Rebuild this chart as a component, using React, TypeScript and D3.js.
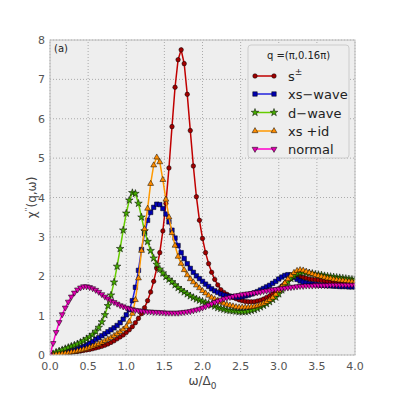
import React from 'react'
import * as d3 from 'd3'

const W = 395
const H = 395
const margin = { left: 50, right: 40, top: 40, bottom: 40 }

const omega = [
  0, 0.04, 0.08, 0.12, 0.16, 0.2, 0.24, 0.28, 0.32, 0.36,
  0.4, 0.44, 0.48, 0.52, 0.56, 0.6, 0.64, 0.68, 0.72, 0.76,
  0.8, 0.84, 0.88, 0.92, 0.96, 1.0, 1.04, 1.08, 1.12, 1.16,
  1.2, 1.24, 1.28, 1.32, 1.36, 1.4, 1.44, 1.48, 1.52, 1.56,
  1.6, 1.64, 1.68, 1.72, 1.76, 1.8, 1.84, 1.88, 1.92, 1.96,
  2.0, 2.04, 2.08, 2.12, 2.16, 2.2, 2.24, 2.28, 2.32, 2.36,
  2.4, 2.44, 2.48, 2.52, 2.56, 2.6, 2.64, 2.68, 2.72, 2.76,
  2.8, 2.84, 2.88, 2.92, 2.96, 3.0, 3.04, 3.08, 3.12, 3.16,
  3.2, 3.24, 3.28, 3.32, 3.36, 3.4, 3.44, 3.48, 3.52, 3.56,
  3.6, 3.64, 3.68, 3.72, 3.76, 3.8, 3.84, 3.88, 3.92, 3.96,
  4.0,
]

const sPm = [
  0, 0.01, 0.02, 0.03, 0.04, 0.05, 0.06, 0.07, 0.08, 0.09,
  0.1, 0.115, 0.13, 0.14, 0.16, 0.18, 0.2, 0.22, 0.25, 0.28,
  0.32, 0.36, 0.41, 0.46, 0.51, 0.57, 0.64, 0.72, 0.82, 0.93,
  1.05, 1.2, 1.38, 1.6, 1.87, 2.2, 2.6, 3.15, 3.85, 4.75,
  5.8, 6.8, 7.5, 7.75, 7.4, 6.62, 5.7, 4.8, 4.02, 3.42,
  2.96, 2.6, 2.32, 2.1, 1.92, 1.78, 1.66, 1.59, 1.54, 1.5,
  1.46, 1.43, 1.4, 1.38, 1.36, 1.355, 1.35, 1.355, 1.37, 1.39,
  1.42, 1.46, 1.5, 1.55, 1.61, 1.68, 1.75, 1.82, 1.89, 1.94,
  1.98, 2.0, 1.99, 1.97, 1.95, 1.93, 1.92, 1.91, 1.9, 1.89,
  1.88, 1.87, 1.86, 1.86, 1.85, 1.85, 1.84, 1.84, 1.83, 1.83,
  1.82,
]

const xsWave = [
  0, 0.01, 0.02, 0.04, 0.05, 0.07, 0.09, 0.11, 0.13, 0.16,
  0.19, 0.22, 0.26, 0.3, 0.34, 0.4, 0.44, 0.49, 0.54, 0.59,
  0.64, 0.69, 0.75, 0.82, 0.91, 1.02, 1.15, 1.38, 1.72, 2.15,
  2.68, 3.08, 3.42, 3.62, 3.75, 3.83, 3.82, 3.72, 3.58, 3.38,
  3.17, 2.97, 2.78, 2.6, 2.45, 2.32, 2.2, 2.1, 2.01, 1.94,
  1.87, 1.8, 1.74, 1.68, 1.63, 1.59, 1.55, 1.52, 1.5, 1.49,
  1.48, 1.47, 1.47, 1.48, 1.5, 1.52, 1.55, 1.58, 1.61, 1.65,
  1.69, 1.73, 1.77, 1.82, 1.87, 1.93, 1.98, 2.02, 2.04, 2.03,
  1.98, 1.92, 1.88, 1.85, 1.83, 1.81, 1.8, 1.79, 1.78, 1.77,
  1.77, 1.76, 1.76, 1.75, 1.75, 1.74, 1.74, 1.74, 1.73, 1.73,
  1.73,
]

const dWave = [
  0, 0.03, 0.07, 0.1, 0.13, 0.16, 0.19, 0.22, 0.25, 0.28,
  0.32, 0.36, 0.41, 0.46, 0.52, 0.6, 0.7, 0.84, 1.02, 1.25,
  1.52, 1.85, 2.25, 2.7, 3.17, 3.6, 3.93, 4.12, 4.1, 3.85,
  3.5, 3.15, 2.88, 2.65, 2.46, 2.3, 2.18, 2.08, 1.99, 1.92,
  1.86, 1.78, 1.71, 1.65, 1.6, 1.55, 1.5, 1.46, 1.42, 1.39,
  1.36, 1.33, 1.3, 1.27, 1.24, 1.2, 1.18, 1.16, 1.14, 1.13,
  1.12, 1.11, 1.1, 1.1, 1.1, 1.11, 1.13, 1.15, 1.18, 1.22,
  1.26, 1.3, 1.35, 1.41, 1.47, 1.55, 1.65, 1.76, 1.86, 1.94,
  2.0, 2.06, 2.09, 2.1, 2.09, 2.08, 2.07, 2.05, 2.04, 2.03,
  2.01, 2.0, 1.99, 1.98, 1.97, 1.96, 1.95, 1.94, 1.93, 1.92,
  1.91,
]

const xsId = [
  0, 0.005, 0.01, 0.02, 0.03, 0.04, 0.05, 0.07, 0.08, 0.1,
  0.12, 0.14, 0.16, 0.19, 0.22, 0.25, 0.28, 0.32, 0.36, 0.4,
  0.44, 0.49, 0.54, 0.59, 0.65, 0.72, 0.85, 1.05, 1.4, 1.95,
  2.65, 3.2, 3.72, 4.35, 4.82, 5.02, 4.9, 4.45, 3.95, 3.5,
  3.1, 2.78, 2.5, 2.32, 2.16, 2.03, 1.93, 1.85, 1.77, 1.7,
  1.63, 1.57, 1.51, 1.46, 1.42, 1.38, 1.34, 1.31, 1.28, 1.26,
  1.24, 1.22, 1.21, 1.21, 1.21, 1.21, 1.22, 1.23, 1.25, 1.28,
  1.31, 1.35, 1.4, 1.46, 1.54, 1.63, 1.73, 1.83, 1.93, 2.02,
  2.09, 2.14, 2.16, 2.15, 2.12, 2.09, 2.06, 2.03, 2.01, 1.99,
  1.97, 1.95, 1.94, 1.92, 1.91, 1.9, 1.89, 1.88, 1.87, 1.86,
  1.86,
]

const normal = [
  0, 0.3, 0.58, 0.83, 1.03, 1.2, 1.35, 1.48, 1.58, 1.66,
  1.71, 1.74, 1.74, 1.72, 1.69, 1.65, 1.6, 1.54, 1.48, 1.43,
  1.38, 1.34, 1.3, 1.26, 1.23, 1.2, 1.18, 1.16, 1.14, 1.13,
  1.12, 1.11, 1.1, 1.1, 1.09, 1.09, 1.08, 1.08, 1.07, 1.07,
  1.07, 1.07, 1.07, 1.08, 1.09, 1.1, 1.11, 1.13, 1.15, 1.17,
  1.2, 1.23, 1.27, 1.3, 1.34, 1.37, 1.4, 1.43, 1.45, 1.47,
  1.49, 1.51, 1.52, 1.54, 1.55, 1.56, 1.57, 1.58, 1.59, 1.6,
  1.62, 1.63, 1.64, 1.66, 1.67, 1.68, 1.69, 1.7, 1.71, 1.72,
  1.73, 1.74, 1.75, 1.75, 1.76, 1.76, 1.76, 1.77, 1.77, 1.77,
  1.77, 1.77, 1.78, 1.78, 1.78, 1.78, 1.78, 1.78, 1.78, 1.78,
  1.78,
]

const xTicks = [0, 0.5, 1, 1.5, 2, 2.5, 3, 3.5, 4]
const yTicks = [0, 1, 2, 3, 4, 5, 6, 7, 8]

const series = [
  { name: 's', values: sPm, line: '#c00000', fill: '#a00000', shape: d3.symbolCircle, size: 16, rot: 0 },
  { name: 'xs\u2212wave', values: xsWave, line: '#2222dd', fill: '#0000b0', shape: d3.symbolSquare, size: 20, rot: 0 },
  { name: 'd\u2212wave', values: dWave, line: '#66cc00', fill: '#44aa00', shape: d3.symbolStar, size: 18, rot: 0 },
  { name: 'xs +id', values: xsId, line: '#ff9900', fill: '#ff8c00', shape: d3.symbolTriangle, size: 15, rot: 0 },
  { name: 'normal', values: normal, line: '#ff00cc', fill: '#e000b0', shape: d3.symbolTriangle, size: 15, rot: 180 },
]

const font = 'DejaVu Sans, sans-serif'

export default function App() {
  const x = d3.scaleLinear().domain([0, 4]).range([margin.left, W - margin.right])
  const y = d3.scaleLinear().domain([0, 8]).range([H - margin.bottom, margin.top])

  const lineGen = d3.line<number>()
    .x((_, i) => x(omega[i]))
    .y((d) => y(d))

  const lx0 = 255
  const lx1 = 274
  const ly = [76, 94, 112.5, 131, 149]

  return (
    <svg width={W} height={H} style={{ position: 'absolute', left: 0, top: 0, background: 'white' }}>
      <defs>
        <clipPath id="plot">
          <rect x={x(0)} y={y(8)} width={x(4) - x(0)} height={y(0) - y(8)} />
        </clipPath>
      </defs>
      <rect x={x(0)} y={y(8)} width={x(4) - x(0)} height={y(0) - y(8)} fill="#eeeeee" />
      {xTicks.map((t) => (
        <line key={'gx' + t} x1={x(t)} x2={x(t)} y1={y(0)} y2={y(8)} stroke="#999" strokeWidth={0.8} strokeDasharray="1,2" />
      ))}
      {yTicks.map((t) => (
        <line key={'gy' + t} x1={x(0)} x2={x(4)} y1={y(t)} y2={y(t)} stroke="#999" strokeWidth={0.8} strokeDasharray="1,2" />
      ))}
      <g clipPath="url(#plot)">
        {series.map((s) => (
          <g key={s.name}>
            <path d={lineGen(s.values) || ''} fill="none" stroke={s.line} strokeWidth={1.5} />
            {s.values.map((v, i) => (
              <path
                key={i}
                d={d3.symbol().type(s.shape).size(s.size)() || ''}
                transform={`translate(${x(omega[i])},${y(v)}) rotate(${s.rot})`}
                fill={s.fill}
                stroke="#000"
                strokeWidth={0.5}
              />
            ))}
          </g>
        ))}
      </g>
      <rect x={x(0)} y={y(8)} width={x(4) - x(0)} height={y(0) - y(8)} fill="none" stroke="#bcbcbc" strokeWidth={1} />
      {xTicks.map((t) => (
        <text key={'tx' + t} x={x(t)} y={y(0) + 15} textAnchor="middle" fontFamily={font} fontSize={11} fill="#555">
          {t.toFixed(1)}
        </text>
      ))}
      {yTicks.map((t) => (
        <text key={'ty' + t} x={x(0) - 5} y={y(t) + 4} textAnchor="end" fontFamily={font} fontSize={11} fill="#555">
          {t}
        </text>
      ))}
      <text x={(x(0) + x(4)) / 2} y={385} textAnchor="middle" fontFamily={font} fontSize={12} fill="#444">
        ω/Δ<tspan dy={4} fontSize={9}>0</tspan>
      </text>
      <text transform={`translate(36,${(y(0) + y(8)) / 2}) rotate(-90)`} textAnchor="middle" fontFamily={font} fontSize={12} fill="#444">
        χ<tspan dy={-6} fontSize={7}>''</tspan><tspan dy={6}>(q,ω)</tspan>
      </text>
      <text x={x(0) + 4} y={y(8) + 12} fontFamily={font} fontSize={10} fill="#222">(a)</text>

      <rect x={248} y={45} width={101} height={113} rx={3} fill="#eeeeee" stroke="#cccccc" strokeWidth={1} />
      <text x={298.5} y={59} textAnchor="middle" fontFamily={font} fontSize={10} fill="#222">q =(π,0.16π)</text>
      {series.map((s, k) => (
        <g key={'lg' + s.name}>
          <line x1={lx0} x2={lx1} y1={ly[k]} y2={ly[k]} stroke={s.line} strokeWidth={1.5} />
          {[lx0, lx1].map((px) => (
            <path
              key={px}
              d={d3.symbol().type(s.shape).size(s.size)() || ''}
              transform={`translate(${px},${ly[k]}) rotate(${s.rot})`}
              fill={s.fill}
              stroke="#000"
              strokeWidth={0.5}
            />
          ))}
          <text x={288} y={ly[k] + 5} fontFamily={font} fontSize={13} fill="#222">
            {s.name}
            {k === 0 ? <tspan dy={-6} fontSize={9}>±</tspan> : null}
          </text>
        </g>
      ))}
    </svg>
  )
}
